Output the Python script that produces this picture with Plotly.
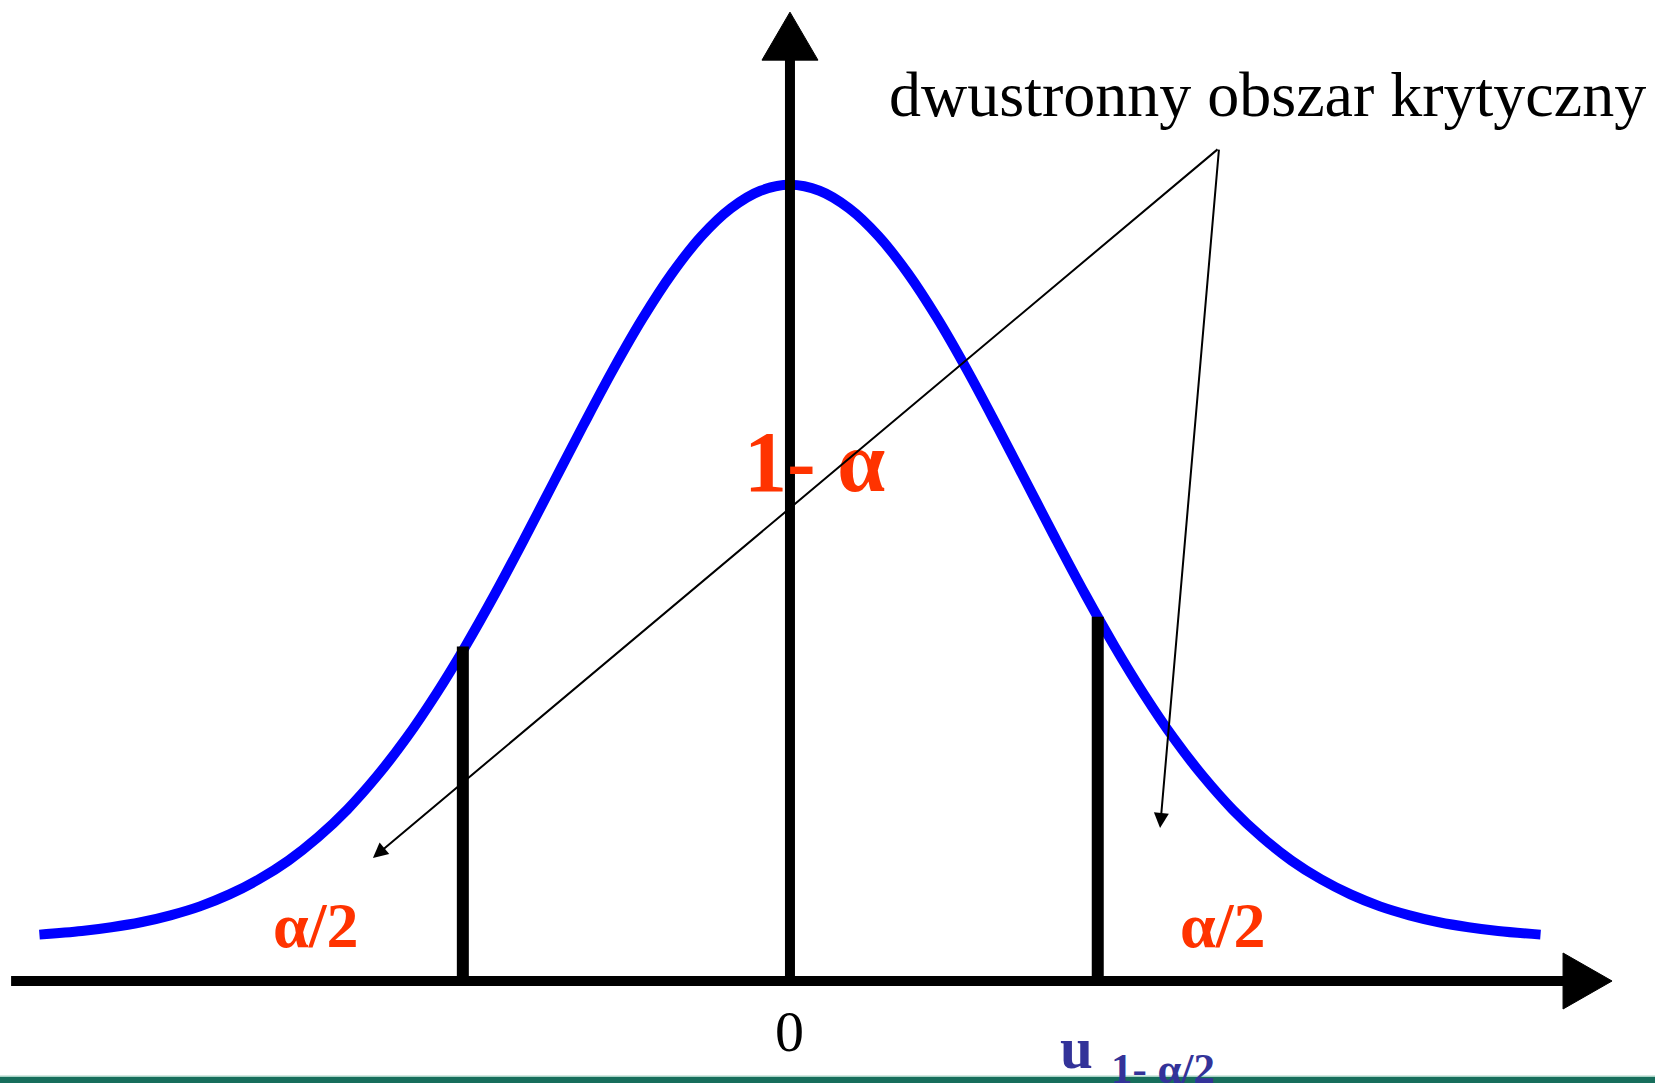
import plotly.graph_objects as go

# ---- data ----
# bell curve, x in standard units, y in density-like units
curve_half_x = [0.0, 0.125, 0.25, 0.375, 0.5, 0.625, 0.75, 0.875, 1.0, 1.125, 1.25, 1.375, 1.5, 1.625,
                1.75, 1.875, 2.0, 2.125, 2.25, 2.375, 2.5, 2.625, 2.75, 2.875, 3.0, 3.18]
curve_half_y = [0.4000, 0.3970, 0.3882, 0.3742, 0.3554, 0.3327, 0.3070, 0.2793, 0.2508, 0.2222, 0.1944,
                0.1682, 0.1440, 0.1221, 0.1029, 0.0862, 0.0722, 0.0605, 0.0511, 0.0435, 0.0375, 0.0330,
                0.0295, 0.0270, 0.0251, 0.0233]
curve_x = [-v for v in curve_half_x[:0:-1]] + curve_half_x
curve_y = curve_half_y[:0:-1] + curve_half_y

# critical value markers (vertical bars)
bar_x = [-1.386, 1.304]
bar_top = [0.168, 0.183]

# axes extents
x_axis_start, x_axis_end = -3.30, 3.483
y_axis_end = 0.4867

# labels
lbl_title = "dwustronny obszar krytyczny"
lbl_center = "1- α"
lbl_tail = "α/2"
lbl_zero = "0"
lbl_u = "u"
lbl_u_sub = "1- α/2"

# pointer arrows: common start, two tips
ptr_start = (1.818, 0.4184)
ptr_tips = [(-1.767, 0.0618), (1.568, 0.0769)]

RED = "#FF3300"
UBLUE = "#333399"
SERIF = "Liberation Serif, Times New Roman, serif"

X_RANGE = [-3.347, 3.665]
Y_RANGE = [-0.05124, 0.4928]

fig = go.Figure()

fig.add_trace(go.Scatter(x=curve_x, y=curve_y, mode="lines",
                         line=dict(color="#0000FF", width=10, shape="spline", smoothing=1.0),
                         hoverinfo="skip", showlegend=False))

for bx, bt in zip(bar_x, bar_top):
    fig.add_trace(go.Scatter(x=[bx, bx], y=[0, bt], mode="lines",
                             line=dict(color="black", width=12),
                             hoverinfo="skip", showlegend=False))

# axes with arrowheads
px_x = (X_RANGE[1] - X_RANGE[0]) / 1655.0
px_y = (Y_RANGE[1] - Y_RANGE[0]) / 1083.0
head_len_x = 49 * px_x
head_half_y = 28 * px_y
head_len_y = 48 * px_y
head_half_x = 28 * px_x

shapes = []
shapes.append(dict(type="line", xref="x", yref="y", x0=x_axis_start, y0=0,
                   x1=x_axis_end - head_len_x + 0.01, y1=0,
                   line=dict(color="black", width=10), layer="above"))
shapes.append(dict(type="path", xref="x", yref="y",
                   path=f"M {x_axis_end - head_len_x},{-head_half_y} L {x_axis_end},0 L {x_axis_end - head_len_x},{head_half_y} Z",
                   fillcolor="black", line=dict(color="black", width=1), layer="above"))
shapes.append(dict(type="line", xref="x", yref="y", x0=0, y0=0,
                   x1=0, y1=y_axis_end - head_len_y + 0.005,
                   line=dict(color="black", width=10), layer="above"))
shapes.append(dict(type="path", xref="x", yref="y",
                   path=f"M {-head_half_x},{y_axis_end - head_len_y} L 0,{y_axis_end} L {head_half_x},{y_axis_end - head_len_y} Z",
                   fillcolor="black", line=dict(color="black", width=1), layer="above"))
# green footer band
shapes.append(dict(type="rect", xref="paper", yref="paper", x0=0, x1=1, y0=0, y1=6 / 1083.0,
                   fillcolor="#176e5c", line=dict(width=0), layer="above"))
shapes.append(dict(type="rect", xref="paper", yref="paper", x0=0, x1=1, y0=6 / 1083.0, y1=7.5 / 1083.0,
                   fillcolor="#a9d3c6", line=dict(width=0), layer="above"))

annotations = [
    dict(x=2.025, y=0.4451, text=lbl_title, showarrow=False, xanchor="center", yanchor="middle",
         font=dict(family=SERIF, size=64, color="black")),
    dict(x=0.106, y=0.2605, text=f"<b>{lbl_center}</b>", showarrow=False, xanchor="center", yanchor="middle",
         font=dict(family=SERIF, size=86, color=RED)),
    dict(x=-2.010, y=0.0278, text=f"<b>{lbl_tail}</b>", showarrow=False, xanchor="center", yanchor="middle",
         font=dict(family=SERIF, size=64, color=RED)),
    dict(x=1.836, y=0.0278, text=f"<b>{lbl_tail}</b>", showarrow=False, xanchor="center", yanchor="middle",
         font=dict(family=SERIF, size=64, color=RED)),
    dict(x=0.0, y=-0.0255, text=lbl_zero, showarrow=False, xanchor="center", yanchor="middle",
         font=dict(family=SERIF, size=58, color="black")),
    dict(x=1.212, y=-0.0335, text=f"<b>{lbl_u}</b>", showarrow=False, xanchor="center", yanchor="middle",
         font=dict(family=SERIF, size=59, color=UBLUE)),
    dict(x=1.581, y=-0.0442, text=f"<b>{lbl_u_sub}</b>", showarrow=False, xanchor="center", yanchor="middle",
         font=dict(family=SERIF, size=43, color=UBLUE)),
]
for tx, ty in ptr_tips:
    annotations.append(dict(x=tx, y=ty, ax=ptr_start[0], ay=ptr_start[1], axref="x", ayref="y",
                            xref="x", yref="y", text="", showarrow=True,
                            arrowhead=2, arrowsize=1.5, arrowwidth=2, arrowcolor="black"))

fig.update_layout(
    width=1655, height=1083,
    margin=dict(l=0, r=0, t=0, b=0),
    paper_bgcolor="white", plot_bgcolor="white",
    xaxis=dict(range=X_RANGE, visible=False, fixedrange=True),
    yaxis=dict(range=Y_RANGE, visible=False, fixedrange=True),
    shapes=shapes, annotations=annotations, showlegend=False,
)

fig.write_html("out.html", config={"displayModeBar": False},
               post_script="document.body.style.margin='0';document.body.style.overflow='hidden';")
